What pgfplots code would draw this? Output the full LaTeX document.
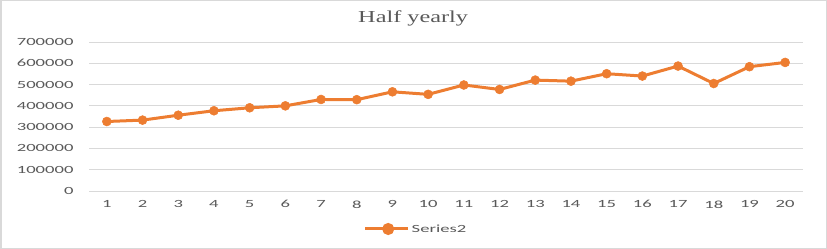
\documentclass[border=0pt]{standalone}
\usepackage{pgfplots}
\pgfplotsset{compat=1.18}
\usepackage{fontspec}
\setmainfont{Carlito}[FakeStretch=1.7]
\newfontfamily\titlefont{Liberation Serif}[FakeStretch=1.45]
\definecolor{orangeS}{HTML}{ED7D31}
\definecolor{txt}{HTML}{595959}
\definecolor{gridc}{HTML}{D9D9D9}
\pgfplotstableread{
x y
1 326500
2 333000
3 356000
4 377000
5 391000
6 400000
7 430000
8 429000
9 466000
10 454000
11 498000
12 477000
13 521000
14 516000
15 551000
16 540000
17 587000
18 505000
19 584000
20 604000
}\datatable
\begin{document}
\begin{tikzpicture}
\useasboundingbox (0,0) rectangle (827bp,249bp);
\draw[gridc, line width=1.5bp] (0.75bp,0.75bp) rectangle (826.25bp,248.25bp);
\begin{axis}[
  at={(89bp,58bp)}, anchor=south west,
  scale only axis, width=714bp, height=149bp,
  xmin=0.5, xmax=20.5, ymin=0, ymax=700000,
  xtick={1,...,20}, ytick={0,100000,...,700000},
  scaled y ticks=false,
  /pgf/number format/.cd, fixed, 1000 sep={}, assume math mode=true, /pgfplots/.cd,
  axis line style={draw=none},
  axis x line*=bottom,
  extra y ticks={0}, extra y tick labels={},
  extra y tick style={grid style={gridc, line width=1bp}},
  tick style={draw=none},
  ymajorgrids, grid style={gridc, line width=0.8bp},
  tick label style={font=\fontsize{11}{13}\selectfont, text=txt},
  yticklabel style={xshift=-12bp},
  xticklabel style={yshift=-6bp},
  clip=false,
  legend style={at={(axis description cs:0.458,-0.255)}, anchor=center, draw=none, fill=none,
    font=\fontsize{11}{13}\selectfont, text=txt, inner sep=0pt},
  legend image code/.code={
    \draw[orangeS, line width=3bp] (0bp,0bp) -- (43bp,0bp);
    \fill[orangeS] (23bp,0bp) circle (4.5bp);
  },
]
\addplot[orangeS, line width=3bp, mark=*, mark size=4.5bp, mark options={fill=orangeS, draw=orangeS, line width=0.5bp}] table[x=x, y=y] {\datatable};
\addlegendentry{Series2}
\node[text=txt, font=\titlefont\fontsize{16.8}{19}\selectfont, anchor=center] at (axis description cs:0.454,1.161) {Half yearly};
\end{axis}
\end{tikzpicture}
\end{document}
